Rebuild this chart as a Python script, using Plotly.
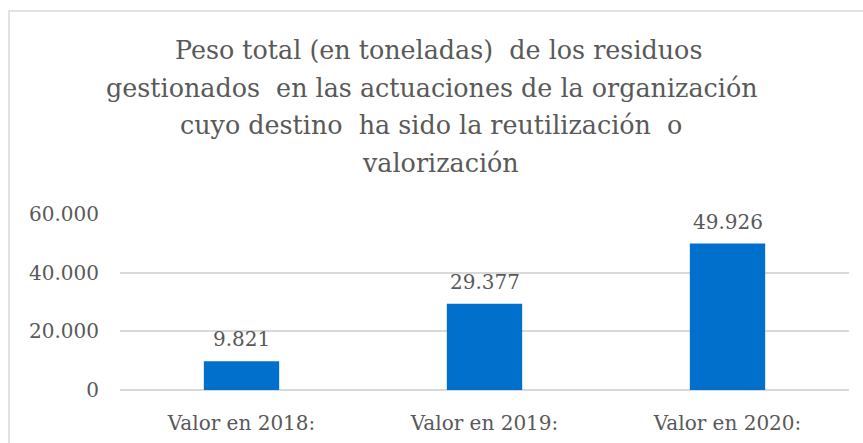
import plotly.graph_objects as go

categories = ["Valor en 2018:", "Valor en 2019:", "Valor en 2020:"]
values = [9821, 29377, 49926]
y_ticks = [0, 20000, 40000, 60000]
title_lines = [
    "Peso total (en toneladas)  de los residuos",
    "gestionados  en las actuaciones de la organización",
    "cuyo destino  ha sido la reutilización  o",
    "valorización",
]

GREY = "#595959"
BAR = "#0070CC"
W, H = 863, 443
L, R, T, B = 120, 14, 214, 53
pw = W - L - R
ph = H - T - B

fig = go.Figure()
fig.add_trace(go.Bar(
    x=categories, y=values, marker=dict(color=BAR, line=dict(width=0)),
    width=0.31, hoverinfo="skip",
))

for c, v in zip(categories, values):
    fig.add_annotation(
        x=c, y=v, xref="x", yref="y", text=f"{v:,}".replace(",", "."),
        showarrow=False, yanchor="bottom", yshift=8,
        font=dict(family="DejaVu Serif", size=20, color=GREY),
    )

# title lines (Excel-like leading)
line_centers = [50, 88, 125.5, 163]
line_x = [438, 432, 431, 440]
for txt, yc, xc in zip(title_lines, line_centers, line_x):
    fig.add_annotation(
        x=(xc - L) / pw, y=1 + (T - yc) / ph, xref="paper", yref="paper",
        text=txt, showarrow=False, xanchor="center", yanchor="middle",
        font=dict(family="DejaVu Serif", size=25.4, color=GREY),
    )

fig.add_shape(
    type="rect", xref="paper", yref="paper",
    x0=(9 - L) / pw, x1=(880 - L) / pw,
    y0=-(B + 20) / ph, y1=1 + (T - 11) / ph,
    line=dict(color="#D9D9D9", width=1.5), fillcolor="rgba(0,0,0,0)", layer="below",
)

fig.update_layout(
    width=W, height=H, autosize=False,
    margin=dict(l=L, r=R, t=T, b=B, pad=0, autoexpand=False),
    paper_bgcolor="white", plot_bgcolor="white",
    separators=",.",
    showlegend=False,
    xaxis=dict(
        automargin=False,
        showgrid=False, showline=False, zeroline=False, ticks="",
        tickfont=dict(family="DejaVu Serif", size=20, color=GREY),
        ticklabelstandoff=19,
    ),
    yaxis=dict(
        automargin=False,
        range=[0, 60000], tickvals=y_ticks, tickformat=",",
        showgrid=True, gridcolor="#D9D9D9", gridwidth=1.5,
        zeroline=True, zerolinecolor="#D9D9D9", zerolinewidth=1.5,
        showline=False, ticks="",
        tickfont=dict(family="DejaVu Serif", size=20, color=GREY),
        ticklabelstandoff=20,
    ),
)

fig.write_html(
    "out.html",
    config={"displayModeBar": False},
    post_script="document.body.style.margin='0';document.body.style.overflow='hidden';",
)
